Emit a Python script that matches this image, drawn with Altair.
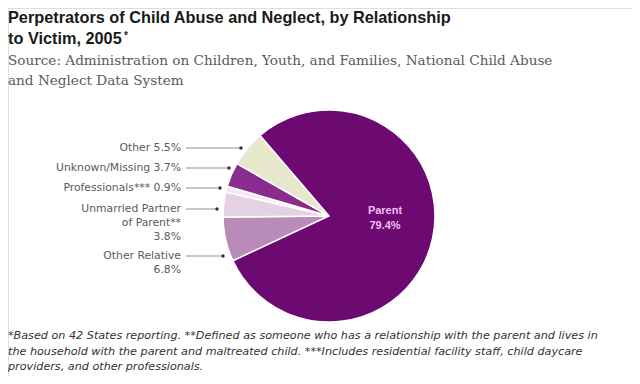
import math
import altair as alt
import pandas as pd

# ---- data ----
categories = ["Other Relative", "Unmarried Partner of Parent", "Professionals", "Unknown/Missing", "Other", "Parent"]
values = [6.8, 3.8, 0.9, 3.7, 5.5, 79.4]
colors = ["#b98bb9", "#e4d2e4", "#f4e8f2", "#8a2c8e", "#e7e7cb", "#6c0a72"]

label_lines = [
    ["Other 5.5%"],
    ["Unknown/Missing 3.7%"],
    ["Professionals*** 0.9%"],
    ["Unmarried Partner", "of Parent**", "3.8%"],
    ["Other Relative", "6.8%"],
]
parent_lines = ["Parent", "79.4%"]

title_lines = ["Perpetrators of Child Abuse and Neglect, by Relationship", "to Victim, 2005"]
subtitle_lines = ["Source: Administration on Children, Youth, and Families, National Child Abuse",
                  "and Neglect Data System"]
footnote_lines = [
    "*Based on 42 States reporting. **Defined as someone who has a relationship with the parent and lives in",
    "the household with the parent and maltreated child. ***Includes residential facility staff, child daycare",
    "providers, and other professionals.",
]

# ---- layout (page pixels; chart origin is at page (8,8)) ----
W, H = 624, 368
OFF = 8
cx, cy, R = 329, 216, 106
start = math.radians(245)

label_y = [148, 168, 188, 209, 256]
dot_x = [241, 229, 220, 217, 223]
line_x1 = 186
label_right = 181
line_gap = 14
left = 8

# ---- pie ----
pie_df = pd.DataFrame({"category": categories, "value": values, "idx": range(len(values))})
pie = alt.Chart(pie_df).mark_arc(outerRadius=R, stroke="white", strokeWidth=1.5).encode(
    theta=alt.Theta("value:Q", stack=True, scale=alt.Scale(range=[start, start + 2 * math.pi])),
    color=alt.Color("category:N", scale=alt.Scale(domain=categories, range=colors), legend=None),
    order=alt.Order("idx:Q"),
    x=alt.value(cx - OFF),
    y=alt.value(cy - OFF),
)

xs = alt.Scale(domain=[0, W], range=[0, W])
ys = alt.Scale(domain=[0, H], range=[0, H])

rows = []
for i, lines in enumerate(label_lines):
    for j, t in enumerate(lines):
        rows.append({"text": t, "x": label_right - OFF, "y": label_y[i] + j * line_gap - OFF})
lab_df = pd.DataFrame(rows)
labels = alt.Chart(lab_df).mark_text(align="right", baseline="middle", font="DejaVu Sans",
                                     fontSize=10.8, color="#5a5a5a").encode(
    x=alt.X("x:Q", scale=xs, axis=None), y=alt.Y("y:Q", scale=ys, axis=None), text="text:N")

ln_df = pd.DataFrame({"x": [line_x1 - OFF] * 5, "x2": [d - OFF for d in dot_x], "y": [v - OFF for v in label_y]})
leaders = alt.Chart(ln_df).mark_rule(color="#777777", strokeWidth=0.8).encode(
    x=alt.X("x:Q", scale=xs, axis=None), x2="x2:Q", y=alt.Y("y:Q", scale=ys, axis=None))
dots = alt.Chart(ln_df).mark_circle(size=12, color="#333333", opacity=1).encode(
    x=alt.X("x2:Q", scale=xs, axis=None), y=alt.Y("y:Q", scale=ys, axis=None))

par_df = pd.DataFrame({"text": parent_lines, "x": [385 - OFF] * 2, "y": [211 - OFF, 226 - OFF]})
parent_lbl = alt.Chart(par_df).mark_text(align="center", baseline="middle", font="Liberation Sans",
                                         fontSize=11, fontWeight="bold", color="#f2bff2").encode(
    x=alt.X("x:Q", scale=xs, axis=None), y=alt.Y("y:Q", scale=ys, axis=None), text="text:N")

ttl_df = pd.DataFrame({"text": title_lines, "x": [left - OFF] * 2, "y": [18 - OFF, 39 - OFF]})
title = alt.Chart(ttl_df).mark_text(align="left", baseline="middle", font="Liberation Sans",
                                    fontSize=16.3, fontWeight="bold", color="#1a1a1a").encode(
    x=alt.X("x:Q", scale=xs, axis=None), y=alt.Y("y:Q", scale=ys, axis=None), text="text:N")
star = alt.Chart(pd.DataFrame({"text": ["*"], "x": [124 - OFF], "y": [36 - OFF]})).mark_text(
    align="left", baseline="middle", font="Liberation Sans", fontSize=10, fontWeight="bold", color="#1a1a1a").encode(
    x=alt.X("x:Q", scale=xs, axis=None), y=alt.Y("y:Q", scale=ys, axis=None), text="text:N")

sub_df = pd.DataFrame({"text": subtitle_lines, "x": [left - OFF] * 2, "y": [61 - OFF, 81 - OFF]})
subtitle = alt.Chart(sub_df).mark_text(align="left", baseline="middle", font="DejaVu Serif",
                                       fontSize=13.6, color="#5a5a5a").encode(
    x=alt.X("x:Q", scale=xs, axis=None), y=alt.Y("y:Q", scale=ys, axis=None), text="text:N")

fn_df = pd.DataFrame({"text": footnote_lines, "x": [left - OFF] * 3, "y": [336 - OFF, 352 - OFF, 367 - OFF]})
foot = alt.Chart(fn_df).mark_text(align="left", baseline="middle", font="DejaVu Sans",
                                  fontSize=11.2, fontStyle="italic", color="#333333").encode(
    x=alt.X("x:Q", scale=xs, axis=None), y=alt.Y("y:Q", scale=ys, axis=None), text="text:N")

chart = alt.layer(pie, leaders, dots, labels, parent_lbl, title, star, subtitle, foot).properties(
    width=W, height=H, padding=0, autosize=alt.AutoSizeParams(type="none")
).configure_view(stroke="transparent", strokeWidth=0).configure(background="white")

chart.save("out.html", embed_options={"renderer": "svg", "actions": False})
